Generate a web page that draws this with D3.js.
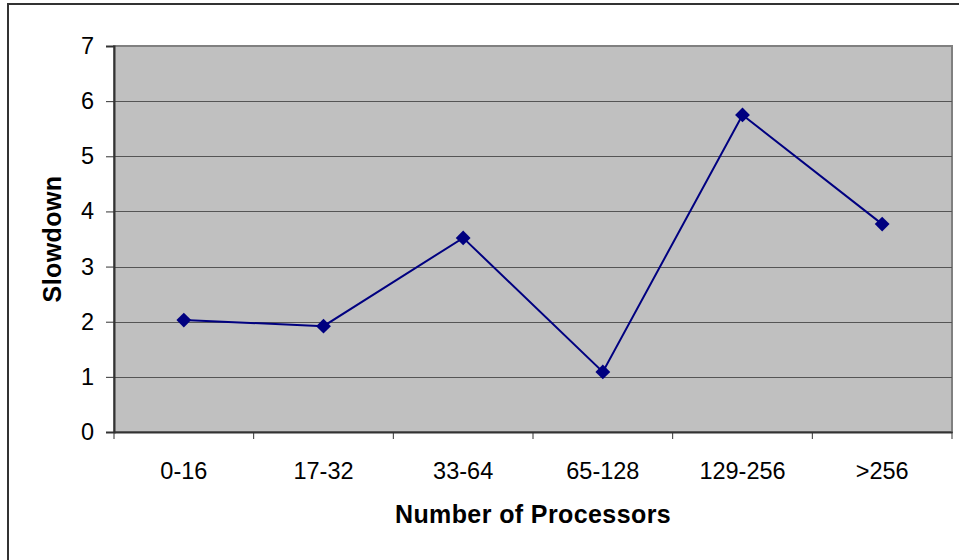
<!DOCTYPE html>
<html><head><meta charset="utf-8">
<script src="https://cdn.jsdelivr.net/npm/d3@7/dist/d3.min.js"></script>
<style>body{margin:0;background:#fff;} svg{display:block;}</style>
</head><body>
<svg id="c" width="959" height="560"></svg>
<script>
const categories = ["0-16","17-32","33-64","65-128","129-256",">256"];
const slowdown = [2.03, 1.92, 3.52, 1.09, 5.75, 3.77];
const yTicks = [0,1,2,3,4,5,6,7];
const xTitle = "Number of Processors";
const yTitle = "Slowdown";

const svg = d3.select("#c");
const font = "Liberation Sans, Arial, sans-serif";
const L = 114, R = 952, T = 46, B = 432;

// outer border (only top/left visible)
svg.append("rect").attr("x",8).attr("y",4).attr("width",1000).attr("height",600)
  .attr("fill","#fff").attr("stroke","#333").attr("stroke-width",2);

const x = d3.scaleBand().domain(categories).range([L,R]).padding(0);
const y = d3.scaleLinear().domain([0,7]).range([B,T]);

svg.append("rect").attr("x",L).attr("y",T).attr("width",R-L).attr("height",B-T)
  .attr("fill","#C0C0C0").attr("stroke","#808080").attr("stroke-width",2);

// gridlines
svg.append("g").selectAll("line").data(yTicks.filter(d=>d>0&&d<7)).join("line")
  .attr("x1",L).attr("x2",R).attr("y1",d=>Math.round(y(d))+0.5).attr("y2",d=>Math.round(y(d))+0.5)
  .attr("stroke","#555").attr("stroke-width",1);

// y axis
const ya = svg.append("g").attr("transform",`translate(${L},0)`)
  .call(d3.axisLeft(y).tickValues(yTicks).tickSize(8).tickPadding(12).tickFormat(d3.format("d")));
ya.select(".domain").attr("stroke","#333").attr("stroke-width",2);
ya.selectAll(".tick line").attr("stroke","#333");
ya.selectAll("text").attr("font-family",font).attr("font-size",23.5).attr("fill","#000");

// x axis
const xa = svg.append("g").attr("transform",`translate(0,${B})`)
  .call(d3.axisBottom(x).tickSize(0).tickPadding(30));
xa.select(".domain").attr("stroke","#333").attr("stroke-width",2);
xa.selectAll("text").attr("font-family",font).attr("font-size",23.5).attr("fill","#000");
// category boundary ticks
svg.append("g").selectAll("line").data(d3.range(categories.length+1)).join("line")
  .attr("x1",i=>L+i*x.bandwidth()).attr("x2",i=>L+i*x.bandwidth())
  .attr("y1",B).attr("y2",B+7).attr("stroke","#333").attr("stroke-width",1);

// line
const cx = d => x(d)+x.bandwidth()/2;
svg.append("path").datum(slowdown.map((v,i)=>[cx(categories[i]),y(v)]))
  .attr("d",d3.line()).attr("fill","none").attr("stroke","#000080").attr("stroke-width",2);
svg.append("g").selectAll("path").data(slowdown).join("path")
  .attr("d",d3.symbol(d3.symbolSquare, 110)())
  .attr("transform",(d,i)=>`translate(${cx(categories[i])},${y(d)}) rotate(45)`)
  .attr("fill","#000080");

// titles
svg.append("text").attr("x",(L+R)/2).attr("y",523).attr("text-anchor","middle")
  .attr("font-family",font).attr("font-size",25).attr("letter-spacing",0.4).attr("font-weight","bold").text(xTitle);
svg.append("text").attr("transform",`translate(61,${(T+B)/2}) rotate(-90)`).attr("text-anchor","middle")
  .attr("font-family",font).attr("font-size",25).attr("letter-spacing",0.4).attr("font-weight","bold").text(yTitle);
</script>
</body></html>
